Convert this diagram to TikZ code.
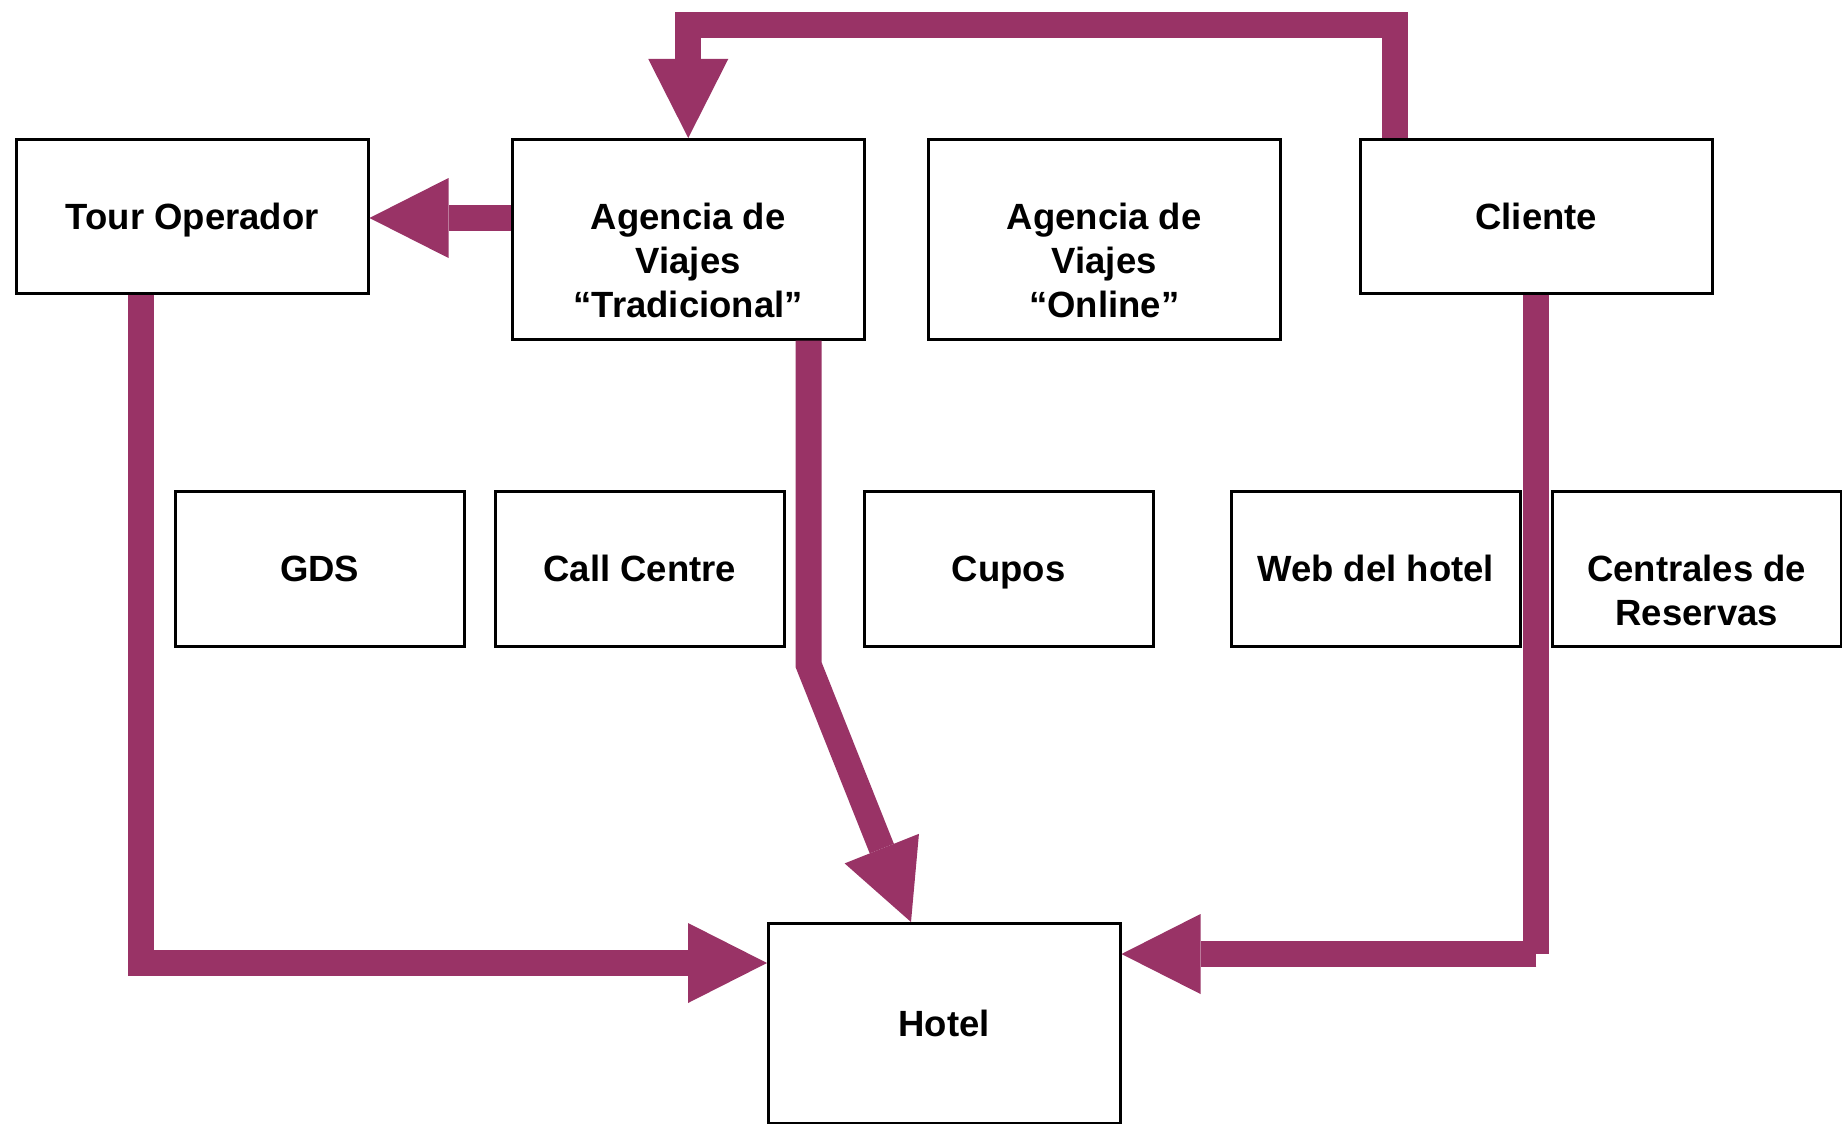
\documentclass[tikz,border=0pt]{standalone}
\usepackage{fontspec}
\setmainfont{Liberation Sans}
\usetikzlibrary{arrows.meta,calc}
\definecolor{flowpurple}{RGB}{153,51,102}
% strut centred on the cap height, deep enough for descenders,
% so each label is centred on its lines
\newcommand\linestrut{\rule[-8.45pt]{0pt}{43pt}}
\begin{document}
\begin{tikzpicture}[x=1pt,y=-1pt,
  box/.style={draw=black,line width=2.5pt,fill=white,rectangle,inner sep=0pt,anchor=north west},
  topbox/.style={box,minimum width=352pt},
  lowbox/.style={box,minimum width=289pt,minimum height=155pt},
  lbl/.style={align=center,inner sep=0pt,text=black,font=\fontsize{36.5}{44}\selectfont\bfseries},
  shaft/.style={draw=flowpurple,line width=26pt,line join=miter},
  flow/.style={shaft,-{Triangle[width=80pt,length=79pt,line width=0pt]}},
]
\fill[white] (0,0) rectangle (1842,1124);
\useasboundingbox (0,0) rectangle (1842,1124);

% upper row
\node[topbox,minimum height=154pt] (tour)    at (15,138)   {};
\node[topbox,minimum height=200pt] (trad)    at (511,138)  {};
\node[topbox,minimum height=200pt] (online)  at (927,138)  {};
\node[topbox,minimum height=154pt] (cliente) at (1359,138) {};
% middle row
\node[lowbox] (gds)       at (174,490)  {};
\node[lowbox] (call)      at (494,490)  {};
\node[lowbox] (cupos)     at (863,490)  {};
\node[lowbox] (web)       at (1230,490) {};
\node[lowbox] (centrales) at (1551,490) {};
% hotel
\node[topbox,minimum height=200pt] (hotel) at (767,922) {};

% labels
\node[lbl] (tourT)    at ($(tour.north)+(0,78)$)       {Tour Operador\linestrut};
\node[lbl] (tradT)    at ($(trad.north)+(0,122)$)      {Agencia de\linestrut\\Viajes\linestrut\\“Tradicional”\linestrut};
\node[lbl] (onlineT)  at ($(online.north)+(0,122)$)    {Agencia de\linestrut\\Viajes\linestrut\\“Online”\linestrut};
\node[lbl] (clienteT) at ($(cliente.north)+(0,78)$)    {Cliente\linestrut};
\node[lbl] (gdsT)     at ($(gds.north)+(0,78)$)        {GDS\linestrut};
\node[lbl] (callT)    at ($(call.north)+(0,78)$)       {Call Centre\linestrut};
\node[lbl] (cuposT)   at ($(cupos.north)+(0,78)$)      {Cupos\linestrut};
\node[lbl] (webT)     at ($(web.north)+(0,78)$)        {Web del hotel\linestrut};
\node[lbl] (centT)    at ($(centrales.north)+(0,100)$) {Centrales de\linestrut\\Reservas\linestrut};
\node[lbl] (hotelT)   at (hotel.center)                {Hotel\linestrut};

% flows
\draw[flow] ($(trad.north west)+(0,80)$) -- ($(tour.north east)+(0,80)$);
\draw[flow] ($(cliente.north west)+(36,0)$) -- ++(0,-113) -| (trad.north);
\draw[flow] ($(tour.south west)+(126,0)$) |- ($(hotel.north west)+(0,41)$);
\draw[flow] ($(trad.south east)+(-57,0)$) -- ++(0,324) -- ($(hotel.north west)+(144,0)$);
% client to hotel: two butt-ended strokes meeting at a notched corner
\coordinate (cbend) at ($(cliente.south |- hotel.north)+(0,32)$);
\draw[shaft] (cliente.south) -- (cbend);
\draw[flow] (cbend) -- ($(hotel.north east)+(0,32)$);
\end{tikzpicture}
\end{document}
